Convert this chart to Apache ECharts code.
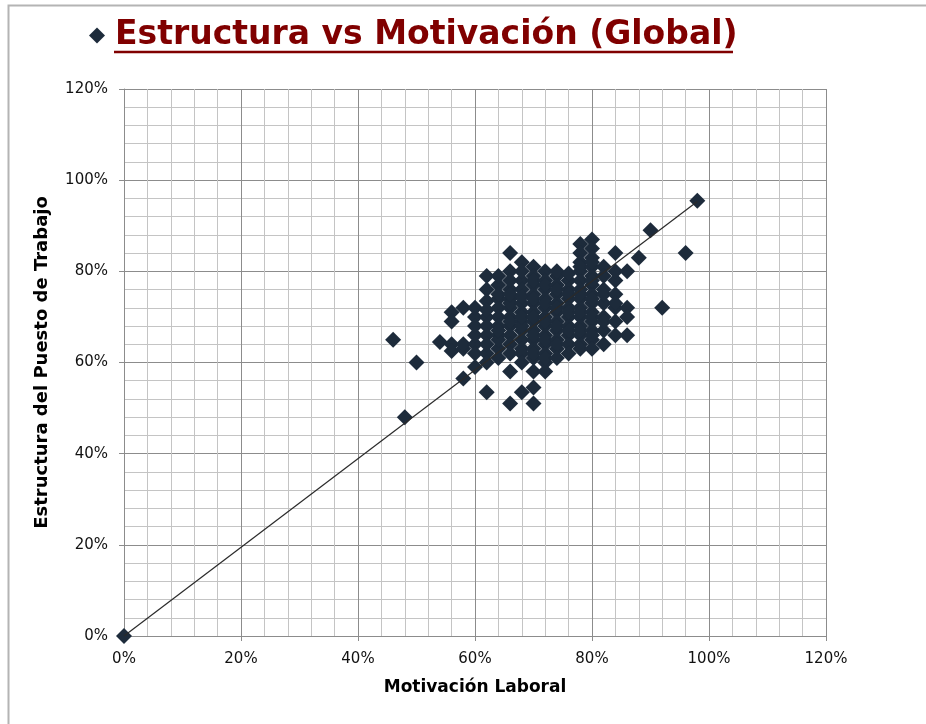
<!DOCTYPE html>
<html>
<head>
<meta charset="utf-8">
<script src="https://cdn.jsdelivr.net/npm/echarts@6/dist/echarts.min.js"></script>
<style>
  html, body { margin: 0; padding: 0; background: #fff; }
  #chart { width: 926px; height: 724px; }
</style>
</head>
<body>
<div id="chart"></div>
<script>
// Motivación Laboral (%) for each respondent
const motivacion = [
  0,
  46, 48, 50, 54,
  56, 56, 56, 56,
  58, 58, 58, 58,
  60, 60, 60, 60, 60, 60, 60,
  62, 62, 62, 62, 62, 62, 62, 62, 62, 62, 62,
  64, 64, 64, 64, 64, 64, 64, 64, 64, 64, 64, 64,
  66, 66, 66, 66, 66, 66, 66, 66, 66, 66, 66, 66, 66, 66, 66, 66,
  68, 68, 68, 68, 68, 68, 68, 68, 68, 68, 68, 68, 68, 68, 68, 68,
  70, 70, 70, 70, 70, 70, 70, 70, 70, 70, 70, 70, 70, 70, 70, 70, 70, 70, 70,
  72, 72, 72, 72, 72, 72, 72, 72, 72, 72, 72, 72, 72, 72, 72, 72, 72,
  74, 74, 74, 74, 74, 74, 74, 74, 74, 74, 74, 74, 74, 74, 74,
  76, 76, 76, 76, 76, 76, 76, 76, 76, 76, 76, 76, 76,
  78, 78, 78, 78, 78, 78, 78, 78, 78, 78, 78, 78, 78, 78, 78, 78, 78,
  80, 80, 80, 80, 80, 80, 80, 80, 80, 80, 80, 80, 80, 80, 80, 80, 80, 80,
  82, 82, 82, 82, 82, 82, 82, 82, 82,
  84, 84, 84, 84, 84, 84, 84, 84,
  86, 86, 86, 86,
  88, 90, 92, 96, 98
];

// Estructura del Puesto de Trabajo (%) for the same respondents
const estructura = [
  0,
  65, 48, 60, 64.5,
  71, 69, 64, 62.5,
  72, 63, 56.5, 64,
  70, 64, 62, 66, 59, 68, 72,
  79, 76, 73.5, 70, 68, 62, 60, 53.5, 66, 64, 71.5,
  77, 74, 72, 70, 66, 63, 61, 75, 68, 79, 65, 67,
  84, 80, 76, 74, 72, 70, 68, 66, 64, 62, 58, 51, 78, 69, 73, 75,
  82, 78, 76, 73, 71, 69, 67, 65, 63, 62, 60, 53.5, 80, 74.5, 68, 70,
  81, 79, 77, 75, 73, 71, 69, 67, 65, 63, 61, 54.5, 51, 78, 74, 70, 66, 62, 58,
  80, 78, 76, 74, 72, 70, 68, 66, 64, 62, 60, 58, 77, 73, 69, 65, 61,
  79, 77, 75, 73, 71, 69, 67, 65, 63, 80, 76, 72, 68, 64, 61,
  78, 76, 74, 72, 70, 68, 66, 64, 79.5, 75, 71, 67, 62,
  86, 84, 82, 80, 78, 76, 74, 72, 70, 68, 66, 64, 63, 81, 75, 71, 67,
  87, 85, 83, 81, 79, 77, 75, 73, 71, 69, 67, 65, 82, 78, 74, 70, 66, 63,
  81, 79, 76, 73, 70, 67, 75, 64, 69,
  84, 78, 75, 72, 69, 80, 66, 73,
  80, 72, 70, 66,
  83, 89, 72, 84, 95.5
];

// Trend line through the origin
const trendX = [0, 98];
const trendY = [0, 95.3];

// Axis ticks (%)
const axisMin = 0;
const axisMax = 120;
const axisStep = 20;

const seriesName = 'Estructura vs Motivación (Global)';

const points = motivacion.map((m, i) => [m, estructura[i]]);
const trend = trendX.map((x, i) => [x, trendY[i]]);

const chart = echarts.init(document.getElementById('chart'));

const axisCommon = {
  type: 'value',
  min: axisMin,
  max: axisMax,
  interval: axisStep,
  minorTick: { show: true, splitNumber: 5, length: 0 },
  minorSplitLine: { show: true, lineStyle: { color: '#c4c4c4', width: 1 } },
  splitLine: { show: true, lineStyle: { color: '#8c8c8c', width: 1 } },
  axisLine: { show: true, onZero: false, lineStyle: { color: '#8c8c8c', width: 1 } },
  axisTick: { show: true, inside: false, length: 5, lineStyle: { color: '#8c8c8c' } },
  axisLabel: {
    formatter: '{value}%',
    color: '#111',
    fontFamily: 'DejaVu Sans',
    fontSize: 15
  },
  nameLocation: 'middle',
  nameTextStyle: {
    color: '#000',
    fontFamily: 'DejaVu Sans',
    fontWeight: 'bold',
    fontSize: 17
  }
};

chart.setOption({
  animation: false,
  backgroundColor: '#fff',
  graphic: [
    {
      type: 'rect',
      shape: { x: 8.5, y: 5.5, width: 1000, height: 1000 },
      style: { fill: 'none', stroke: '#b4b4b4', lineWidth: 2 },
      silent: true
    },
    {
      type: 'line',
      shape: { x1: 114, y1: 52, x2: 733, y2: 52 },
      style: { stroke: '#800000', lineWidth: 2.5 },
      silent: true
    }
  ],
  legend: {
    data: [seriesName],
    left: 84,
    top: 14,
    icon: 'diamond',
    itemWidth: 16,
    itemHeight: 16,
    itemGap: 10,
    textStyle: {
      color: '#800000',
      fontFamily: 'DejaVu Sans',
      fontWeight: 'bold',
      fontSize: 33,
      padding: [0, 0, 0, 5]
    }
  },
  grid: { left: 124, right: 100, top: 89, bottom: 88, containLabel: false },
  xAxis: Object.assign({}, axisCommon, {
    name: 'Motivación Laboral',
    nameGap: 43,
    axisLabel: Object.assign({}, axisCommon.axisLabel, { margin: 16 })
  }),
  yAxis: Object.assign({}, axisCommon, {
    name: 'Estructura del Puesto de Trabajo',
    nameGap: 73,
    axisLabel: Object.assign({}, axisCommon.axisLabel, { margin: 16 }),
    nameTextStyle: Object.assign({}, axisCommon.nameTextStyle, { fontSize: 18 })
  }),
  series: [
    {
      name: seriesName,
      type: 'scatter',
      symbol: 'diamond',
      symbolSize: 16,
      itemStyle: { color: '#1d2b3b', opacity: 1 },
      data: points,
      z: 3
    },
    {
      name: 'Tendencia',
      type: 'line',
      data: trend,
      symbol: 'none',
      lineStyle: { color: '#2a2a2a', width: 1.2 },
      z: 5
    }
  ]
});
</script>
</body>
</html>
